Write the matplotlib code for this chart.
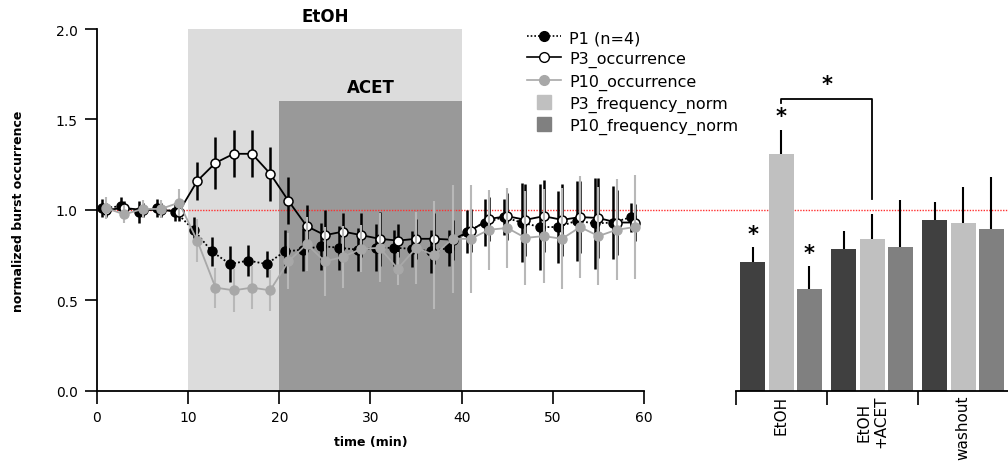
import numpy as np
import matplotlib.pyplot as plt
from matplotlib.lines import Line2D

# time course data (odd minutes)
t_min = list(range(1, 60, 2))
p1_occ = [1.01, 1.02, 0.99, 1.01, 0.99, 0.89, 0.77, 0.70, 0.72, 0.70,
          0.77, 0.78, 0.80, 0.79, 0.78, 0.79, 0.79, 0.785, 0.77, 0.79,
          0.88, 0.93, 0.96, 0.93, 0.905, 0.905, 0.94, 0.925, 0.93, 0.96]
p1_err = [0.05, 0.05, 0.06, 0.05, 0.05, 0.07, 0.08, 0.10, 0.085, 0.07,
          0.12, 0.12, 0.13, 0.12, 0.12, 0.13, 0.10, 0.10, 0.12, 0.10,
          0.12, 0.13, 0.10, 0.22, 0.24, 0.20, 0.22, 0.25, 0.20, 0.08]
p3_occ = [1.00, 1.01, 1.00, 1.00, 0.99, 1.16, 1.26, 1.31, 1.31, 1.20,
          1.05, 0.91, 0.86, 0.88, 0.86, 0.84, 0.83, 0.84, 0.84, 0.835,
          0.885, 0.95, 0.965, 0.945, 0.965, 0.945, 0.96, 0.955, 0.93, 0.93]
p3_err = [0.04, 0.04, 0.04, 0.04, 0.05, 0.105, 0.145, 0.13, 0.13, 0.15,
          0.13, 0.115, 0.14, 0.10, 0.12, 0.15, 0.09, 0.11, 0.14, 0.11,
          0.12, 0.12, 0.13, 0.20, 0.20, 0.20, 0.20, 0.22, 0.18, 0.10]
p10_occ = [1.01, 0.975, 1.005, 1.005, 1.04, 0.83, 0.57, 0.555, 0.57, 0.555,
           0.715, 0.81, 0.715, 0.74, 0.785, 0.79, 0.675, 0.79, 0.75, 0.84,
           0.84, 0.89, 0.90, 0.845, 0.855, 0.84, 0.905, 0.855, 0.89, 0.905]
p10_err = [0.06, 0.05, 0.05, 0.05, 0.073, 0.12, 0.11, 0.12, 0.117, 0.115,
           0.155, 0.15, 0.19, 0.17, 0.13, 0.19, 0.09, 0.20, 0.30, 0.30,
           0.30, 0.22, 0.22, 0.26, 0.26, 0.28, 0.28, 0.27, 0.28, 0.29]

# bar summary
conditions = ["EtOH", "EtOH\n+ACET", "washout"]
bar_p1 = [0.713, 0.783, 0.943]
bar_p1_err = [0.08, 0.10, 0.098]
bar_p3 = [1.308, 0.838, 0.926]
bar_p3_err = [0.133, 0.14, 0.20]
bar_p10 = [0.562, 0.792, 0.893]
bar_p10_err = [0.125, 0.26, 0.29]

etoh_win = (10, 40, 2.0)
acet_win = (20, 40, 1.6)

fig = plt.figure(figsize=(10.08, 4.64), dpi=100)
ax = fig.add_axes([0.0962, 0.1558, 0.5427, 0.7795])
axb = fig.add_axes([0.7299, 0.1558, 0.2708, 0.7795])

# drug application windows
ax.fill_between([etoh_win[0], etoh_win[1]], 0, etoh_win[2], color="#dcdcdc", lw=0, zorder=0)
ax.fill_between([acet_win[0], acet_win[1]], 0, acet_win[2], color="#999999", lw=0, zorder=0)
ax.text(25, 2.02, "EtOH", ha="center", va="bottom", fontsize=12, fontweight="bold")
ax.text(30, 1.63, "ACET", ha="center", va="bottom", fontsize=12, fontweight="bold")

# baseline across both panels
ax.axhline(1.0, xmin=0, xmax=1.67, color="#ff3030", ls=(0, (1, 1)), lw=1.0,
           clip_on=False, zorder=2)

t = np.array(t_min)
ax.errorbar(t - 0.4, p1_occ, yerr=p1_err, fmt="o", ls=(0, (1, 1.2)), color="black",
            mfc="black", mec="black", ms=6.5, lw=1.3, elinewidth=1.8, capsize=0, zorder=3)
ax.errorbar(t, p3_occ, yerr=p3_err, fmt="o", ls="-", color="black",
            mfc="white", mec="black", ms=6.5, lw=1.3, mew=1.1, elinewidth=1.8, capsize=0, zorder=4)
ax.errorbar(t, p10_occ, yerr=p10_err, fmt="o", ls="-", color="#a8a8a8",
            mfc="#a8a8a8", mec="#a8a8a8", ecolor="#b8b8b8", ms=6.5, lw=1.3,
            elinewidth=1.5, capsize=0, zorder=5)

ax.set_xlim(0, 60)
ax.set_ylim(0, 2.0)
ax.set_xticks(range(0, 61, 10))
ax.set_yticks([0, 0.5, 1.0, 1.5, 2.0])
ax.set_yticklabels(["0.0", "0.5", "1.0", "1.5", "2.0"])
for s in ["top", "right"]:
    ax.spines[s].set_visible(False)
for s in ["left", "bottom"]:
    ax.spines[s].set_linewidth(1.3)
ax.tick_params(direction="out", length=9, width=1.2, labelsize=10, pad=5)
ax.set_xlabel("time (min)", fontsize=9, fontweight="bold", labelpad=8)
ax.set_ylabel("normalized burst occurrence", fontsize=9, fontweight="bold", labelpad=22)
ax.patch.set_alpha(0)

# bar panel
x = np.arange(len(conditions))
w = 0.275
off = [-0.315, 0.0, 0.31]
cols = ["#404040", "#c0c0c0", "#808080"]
for vals, errs, o, c in zip([bar_p1, bar_p3, bar_p10],
                            [bar_p1_err, bar_p3_err, bar_p10_err], off, cols):
    axb.bar(x + o, vals, w, color=c, zorder=2)
    axb.errorbar(x + o, vals, yerr=[np.zeros(len(errs)), errs], fmt="none",
                 ecolor="black", elinewidth=1.5, capsize=0, zorder=3)

# significance marks
for xi, v, e in [(0 + off[0], bar_p1[0], bar_p1_err[0]),
                 (0 + off[1], bar_p3[0], bar_p3_err[0]),
                 (0 + off[2], bar_p10[0], bar_p10_err[0])]:
    axb.text(xi, v + e + 0.02, "*", ha="center", va="bottom", fontsize=15, fontweight="bold")
axb.plot([0 + off[1], 0 + off[1], 1 + off[1], 1 + off[1]], [1.59, 1.615, 1.615, 1.06],
         color="black", lw=1.3, zorder=3)
axb.text(0.5, 1.64, "*", ha="center", va="bottom", fontsize=15, fontweight="bold")

axb.set_xlim(-0.5, 2.5)
axb.set_ylim(0, 2.0)
axb.set_xticks([-0.5, 0.5, 1.5, 2.5])
axb.set_xticklabels([])
axb.set_xticks(x, minor=True)
axb.set_xticklabels(conditions, minor=True, rotation=90, fontsize=11, va="top", ha="center")
axb.tick_params(axis="x", which="major", direction="out", length=10, width=1.2)
axb.tick_params(axis="x", which="minor", length=0, pad=3)
axb.set_yticks([])
for s in ["top", "right", "left"]:
    axb.spines[s].set_visible(False)
axb.spines["bottom"].set_linewidth(1.3)
axb.patch.set_alpha(0)

handles = [
    Line2D([], [], color="black", ls=(0, (1, 1.2)), marker="o", mfc="black", ms=7, lw=1.2),
    Line2D([], [], color="black", ls="-", marker="o", mfc="white", mec="black", ms=7, lw=1.2),
    Line2D([], [], color="#a8a8a8", ls="-", marker="o", mfc="#a8a8a8", mec="#a8a8a8", ms=7, lw=1.2),
    Line2D([], [], color="#c0c0c0", ls="none", marker="s", ms=10),
    Line2D([], [], color="#808080", ls="none", marker="s", ms=10),
]
labels = ["P1 (n=4)", "P3_occurrence", "P10_occurrence", "P3_frequency_norm", "P10_frequency_norm"]
fig.legend(handles, labels, loc="upper left", bbox_to_anchor=(527 / 1008, 1 - 31 / 464),
           frameon=False, fontsize=11.5, handlelength=2.1, handletextpad=0.55,
           labelspacing=0.38, borderpad=0, borderaxespad=0)

fig.savefig("out.png", dpi=100)
